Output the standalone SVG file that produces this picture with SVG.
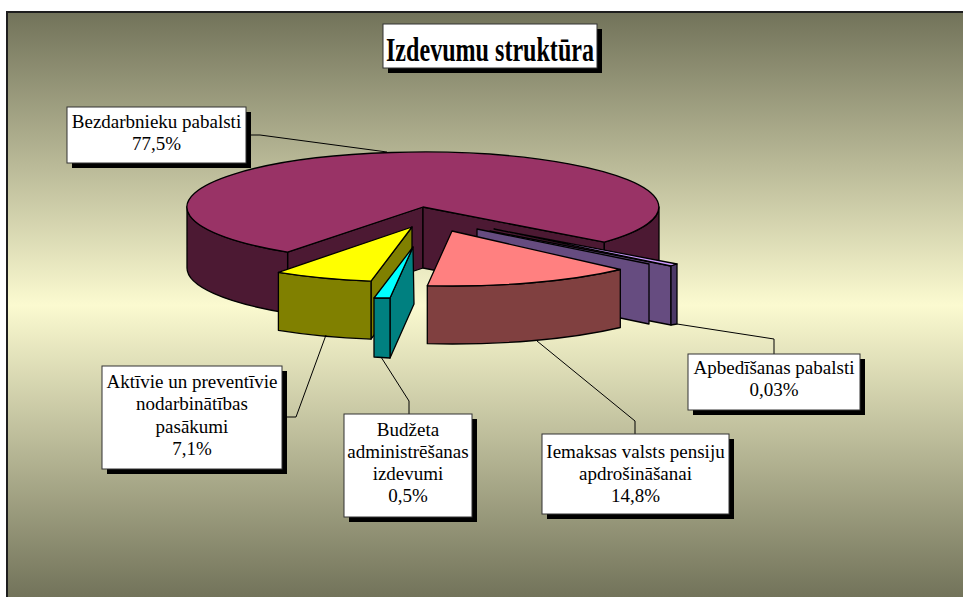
<svg xmlns="http://www.w3.org/2000/svg" width="963" height="597" viewBox="0 0 963 597">
<defs>
<linearGradient id="bg" gradientUnits="userSpaceOnUse" x1="0" y1="13" x2="0" y2="597">
<stop offset="0" stop-color="#72735a"/>
<stop offset="0.5" stop-color="#fbfad0"/>
<stop offset="1" stop-color="#72735a"/>
</linearGradient>
<style>
.s{stroke:#000;stroke-width:1.3;stroke-linejoin:round}
.box{fill:#fff;stroke:#333;stroke-width:1}
.sh{fill:#000}
.lbl{font-family:"Liberation Serif","Times New Roman",serif;font-size:19px;fill:#000;text-anchor:middle}
.ttl{font-family:"Liberation Serif","Times New Roman",serif;font-size:34px;font-weight:bold;fill:#000}
.con{fill:none;stroke:#000;stroke-width:1}
</style>
</defs>
<rect x="0" y="0" width="963" height="597" fill="#fff"/>
<rect x="7" y="12" width="970" height="600" fill="url(#bg)" stroke="#1e1e1e" stroke-width="2"/>

<g id="title">
<rect class="sh" x="388" y="29" width="214" height="44"/>
<rect class="box" x="383" y="24" width="214" height="44"/>
<text class="ttl" x="386" y="61" textLength="208" lengthAdjust="spacingAndGlyphs">Izdevumu struktūra</text>
</g>

<g id="slice-bezdarbnieku">
<path class="s" fill="#4c1933" d="M423,207 L287.6,252.1 L287.6,313.1 L423,268 Z"/>
<path class="s" fill="#4c1933" d="M423,207 L604.3,242.2 L604.3,303.2 L423,268 Z"/>
<path class="s" fill="#4c1933" d="M287.6,252.1 A236,55 0 0 1 187,207 L187,268 A236,55 0 0 0 287.6,313.1 Z"/>
<path class="s" fill="#4c1933" d="M659,207 A236,55 0 0 1 604.3,242.2 L604.3,303.2 A236,55 0 0 0 659,268 Z"/>
<path class="s" fill="#993366" d="M423,207 L287.6,252.1 A236,55 0 1 1 604.3,242.2 Z"/>
</g>

<g id="slice-apbedisanas">
<path class="s" fill="#664c80" d="M490,231 L671,266 L671,325 L490,290 Z"/>
<path class="s" fill="#cc99ff" d="M494,229 L677,264 L671,266 Z"/>
<path class="s" fill="#4c3966" d="M671,266 L677,264 L677,324 L671,325 Z"/>
<path class="s" fill="#664c80" d="M477,229 L649,264 L649,324 L477,288 Z"/>
</g>

<g id="slice-iemaksas">
<path class="s" fill="#804040" d="M620.3,269.5 A236,55 0 0 1 427.3,285.7 L427.3,343.7 A236,55 0 0 0 620.3,327.5 Z"/>
<path class="s" fill="#ff8080" d="M452,231 L620.3,269.5 A236,55 0 0 1 427.3,285.7 Z"/>
</g>

<g id="slice-aktivie">
<path class="s" fill="#808000" d="M412,227 L371,281.2 L371,339.2 L412,285 Z"/>
<path class="s" fill="#808000" d="M371,281.2 A236,55 0 0 1 278.4,272.3 L278.4,330.3 A236,55 0 0 0 371,339.2 Z"/>
<path class="s" fill="#ffff00" d="M412,227 L371,281.2 A236,55 0 0 1 278.4,272.3 Z"/>
</g>

<g id="slice-budzeta">
<path class="s" fill="#008080" d="M413,247 L390,298 L390,358 L414,304 Z"/>
<path class="s" fill="#008080" d="M374,298 L390,298 L390,358 L374,357 Z"/>
<path class="s" fill="#00ffff" d="M413,247 L390,298 L374,298 Z"/>
</g>

<g id="connectors">
<polyline class="con" points="246,135 260,135 387,152"/>
<polyline class="con" points="282,417 296,417 326,335"/>
<polyline class="con" points="409,414 409,401 381,357"/>
<polyline class="con" points="635,434 635,421 537,341"/>
<polyline class="con" points="774,354 774,339 677,324"/>
</g>

<g id="label-bezdarbnieku">
<rect class="sh" x="72" y="112" width="179" height="56"/>
<rect class="box" x="67" y="107" width="179" height="56"/>
<text class="lbl" x="156.5" y="128">Bezdarbnieku pabalsti</text>
<text class="lbl" x="156.5" y="150">77,5%</text>
</g>

<g id="label-aktivie">
<rect class="sh" x="107" y="371" width="180" height="103"/>
<rect class="box" x="102" y="366" width="180" height="103"/>
<text class="lbl" x="192" y="388">Aktīvie un preventīvie</text>
<text class="lbl" x="192" y="410">nodarbinātības</text>
<text class="lbl" x="192" y="433">pasākumi</text>
<text class="lbl" x="192" y="455">7,1%</text>
</g>

<g id="label-budzeta">
<rect class="sh" x="349" y="419" width="128" height="103"/>
<rect class="box" x="344" y="414" width="128" height="103"/>
<text class="lbl" x="408" y="436">Budžeta</text>
<text class="lbl" x="408" y="458">administrēšanas</text>
<text class="lbl" x="408" y="480">izdevumi</text>
<text class="lbl" x="408" y="502">0,5%</text>
</g>

<g id="label-iemaksas">
<rect class="sh" x="547" y="439" width="187" height="80"/>
<rect class="box" x="542" y="434" width="187" height="80"/>
<text class="lbl" x="635.5" y="458">Iemaksas valsts pensiju</text>
<text class="lbl" x="635.5" y="480">apdrošināšanai</text>
<text class="lbl" x="635.5" y="502">14,8%</text>
</g>

<g id="label-apbedisanas">
<rect class="sh" x="693" y="359" width="172" height="56"/>
<rect class="box" x="688" y="354" width="172" height="56"/>
<text class="lbl" x="774" y="374">Apbedīšanas pabalsti</text>
<text class="lbl" x="774" y="396">0,03%</text>
</g>
</svg>
